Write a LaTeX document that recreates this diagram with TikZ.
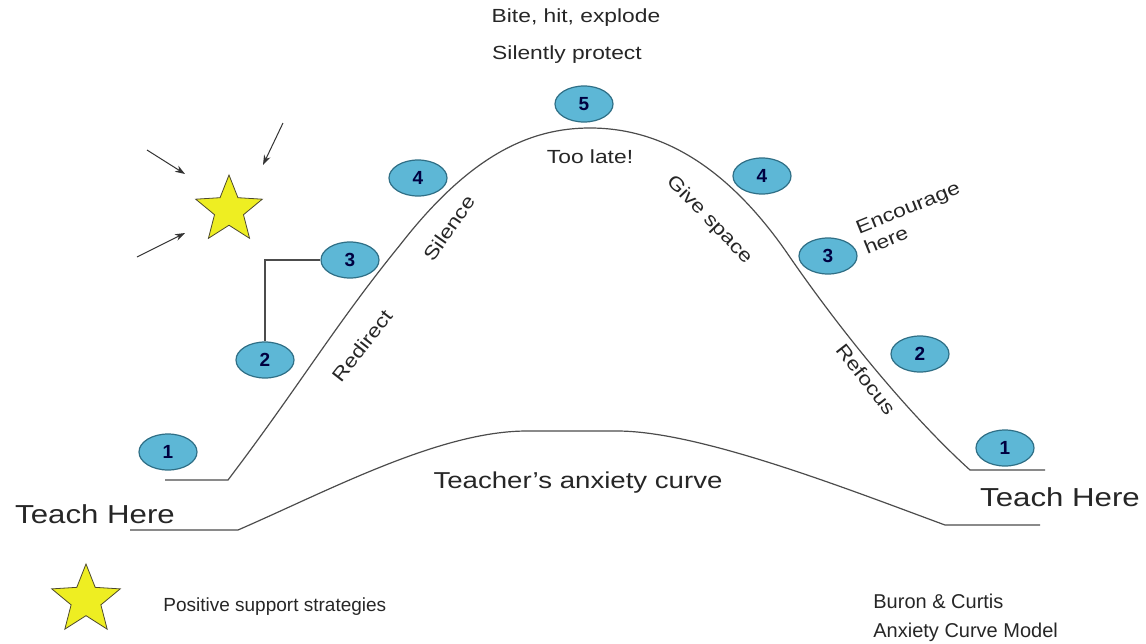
\documentclass[tikz,border=0pt]{standalone}
\usepackage{fontspec}
\setmainfont{Liberation Sans}[FakeStretch=1.2]
\newfontfamily\plainsf{Liberation Sans}
\usetikzlibrary{shapes.geometric,arrows.meta}
\definecolor{ballfill}{HTML}{5DB7D6}
\definecolor{balledge}{HTML}{2F6F86}
\definecolor{staryel}{HTML}{EEEE22}
\begin{document}
\begin{tikzpicture}[x=0.5pt,y=-0.5pt,every node/.style={font=\fontsize{9.5}{11}\selectfont,inner sep=1pt,text=black!85},
  ball/.style={ellipse,draw=balledge,fill=ballfill,line width=0.6pt,minimum width=29pt,minimum height=18pt,font=\plainsf\fontsize{9.5}{11}\selectfont\bfseries,text=black!75!blue},
  starbox/.style={star,star points=5,star point ratio=2.3,draw=black!60!olive,fill=staryel,line width=0.4pt,minimum size=#1},
  curve/.style={draw=black!70,line width=0.6pt},
  ptr/.style={-{Stealth[length=5pt,width=3.5pt]},black!80,line width=0.5pt}]
\useasboundingbox (0,0) rectangle (1146,643);
% anxiety curve
\draw[curve] (165,480) -- (228,480) .. controls (300,385) and (335,325) .. (400,245)
  .. controls (470,155) and (530,128) .. (590,128) .. controls (660,128) and (725,165) .. (785,250)
  .. controls (850,345) and (920,425) .. (970,470) -- (1045,470);
% teacher's curve
\draw[curve] (130,530) -- (238,530) .. controls (330,490) and (440,431) .. (527,431) -- (617,431)
  .. controls (700,431) and (850,490) .. (945,525) -- (1040,525);
% circles
\node[ball] (l1) at (168,452) {1};
\node[ball] (l2) at (265,360) {2};
\node[ball] (l3) at (350,260) {3};
\node[ball] (l4) at (418,178) {4};
\node[ball] (top) at (584,104) {5};
\node[ball] (r4) at (762,176) {4};
\node[ball] (r3) at (828,256) {3};
\node[ball] (r2) at (920,354) {2};
\node[ball] (r1) at (1005,448) {1};
\draw[curve] (l2.north) |- (l3.west);
% star and arrows
\node[starbox=35pt] (pos) at (229,210) {};
\coordinate (a1) at (147,150);
\coordinate (a2) at (283,123);
\coordinate (a3) at (137,257);
\draw[ptr] (a1) -- (185,174);
\draw[ptr] (a2) -- (263,165);
\draw[ptr] (a3) -- (185,233);
% labels
\node (bite) at (576,18) {Bite, hit, explode};
\node (prot) at (567,55) {Silently protect};
\node (late) at (590,157) {Too late!};
\node[rotate=55] (sil) at (449,228) {Silence};
\node[rotate=52] (redir) at (362,346) {Redirect};
\node[rotate=-46] (give) at (709,220) {Give space};
\node[rotate=22,align=left] (enc) at (912,218) {Encourage\\here};
\node[rotate=-52] (refoc) at (866,379) {Refocus};
\node[font=\fontsize{11.5}{13}\selectfont] (tac) at (578,483) {Teacher's anxiety curve};
\node[font=\fontsize{13}{15}\selectfont] (thl) at (95,514) {Teach Here};
\node[font=\fontsize{13}{15}\selectfont] (thr) at (1060,497) {Teach Here};
% legend
\node[starbox=36pt] (key) at (86,600) {};
\node[anchor=west,font=\plainsf\fontsize{9.5}{11}\selectfont] (keytxt) at (161,607) {Positive support strategies};
\node[anchor=west,font=\plainsf\fontsize{10}{12}\selectfont] (src1) at (871,601) {Buron \& Curtis};
\node[anchor=west,font=\plainsf\fontsize{10}{12}\selectfont] (src2) at (871,632) {Anxiety Curve Model};
\end{tikzpicture}
\end{document}
